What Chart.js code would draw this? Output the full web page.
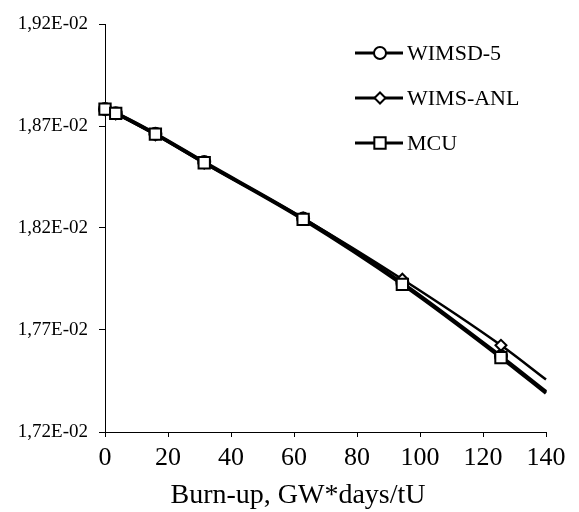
<!DOCTYPE html>
<html>
<head>
<meta charset="utf-8">
<script src="https://cdn.jsdelivr.net/npm/chart.js@4/dist/chart.umd.min.js"></script>
<style>
  html, body { margin: 0; padding: 0; background: #fff; }
  #wrap { width: 579px; height: 512px; }
</style>
</head>
<body>
<div id="wrap"><canvas id="myChart" width="579" height="512"></canvas></div>
<script>
// burn-up, GW*days/tU
let burnup = [0, 3.4, 16, 31.5, 62.9, 94.4, 125.7, 140];
// values in units of 1E-02
let wimsd5 = [1.8783, 1.8763, 1.8662, 1.8523, 1.8246, 1.7930, 1.7571, 1.7398];
let wimsAnl = [1.8781, 1.8760, 1.8657, 1.8518, 1.8248, 1.7949, 1.7625, 1.7457];
let mcu = [1.8783, 1.8762, 1.8660, 1.8520, 1.8242, 1.7924, 1.7565, 1.7390];
let seriesNames = ['WIMSD-5', 'WIMS-ANL', 'MCU'];
let xTitle = 'Burn-up, GW*days/tU';

const serif = "'Liberation Serif', 'Times New Roman', serif";

function toPoints(arr) {
  let pts = [];
  for (let i = 0; i < burnup.length; i++) {
    pts.push({ x: burnup[i], y: arr[i] / 100 });
  }
  return pts;
}

function radii(r) {
  // no marker on the last (edge) point
  return burnup.map((b, i) => (i === burnup.length - 1 ? 0 : r));
}

function formatSci(value) {
  let s = Number(value).toExponential(2); // 1.92e-2
  let parts = s.split('e');
  let exp = parseInt(parts[1], 10);
  let sign = exp < 0 ? '-' : '+';
  let e = String(Math.abs(exp)).padStart(2, '0');
  return parts[0].replace('.', ',') + 'E' + sign + e;
}

const legendAndTitle = {
  id: 'legendAndTitle',
  afterDraw(chart) {
    const ctx = chart.ctx;
    ctx.save();
    const rows = [53, 98, 143];
    chart.data.datasets.forEach((ds, i) => {
      const y = rows[i];
      ctx.strokeStyle = '#000';
      ctx.lineWidth = 3;
      ctx.beginPath();
      ctx.moveTo(355, y);
      ctx.lineTo(403, y);
      ctx.stroke();
      ctx.fillStyle = '#fff';
      ctx.strokeStyle = '#000';
      ctx.lineWidth = 2;
      Chart.helpers.drawPoint(ctx, {
        pointStyle: ds.pointStyle,
        radius: ds.legendRadius,
        borderWidth: 2,
        rotation: 0
      }, 380, y);
      ctx.fillStyle = '#000';
      ctx.font = '22px ' + serif;
      ctx.textAlign = 'left';
      ctx.textBaseline = 'middle';
      ctx.fillText(ds.label, 407, y + 1);
    });
    ctx.fillStyle = '#000';
    ctx.font = '28px ' + serif;
    ctx.textAlign = 'center';
    ctx.textBaseline = 'middle';
    ctx.fillText(xTitle, 298, 496);
    ctx.restore();
  }
};

const ctx = document.getElementById('myChart');
new Chart(ctx, {
  type: 'line',
  data: {
    datasets: [
      {
        label: seriesNames[2],
        data: toPoints(mcu),
        borderColor: '#000',
        borderWidth: 3.5,
        pointStyle: 'rect',
        pointRadius: radii(8),
        legendRadius: 8,
        pointBorderWidth: 2,
        pointBackgroundColor: '#fff',
        pointBorderColor: '#000',
        cubicInterpolationMode: 'monotone',
        clip: false,
        order: 0
      },
      {
        label: seriesNames[1],
        data: toPoints(wimsAnl),
        borderColor: '#000',
        borderWidth: 2.5,
        pointStyle: 'rectRot',
        pointRadius: radii(5.5),
        legendRadius: 5.5,
        pointBorderWidth: 2,
        pointBackgroundColor: '#fff',
        pointBorderColor: '#000',
        cubicInterpolationMode: 'monotone',
        clip: false,
        order: 1
      },
      {
        label: seriesNames[0],
        data: toPoints(wimsd5),
        borderColor: '#000',
        borderWidth: 3.5,
        pointStyle: 'circle',
        pointRadius: radii(6),
        legendRadius: 6,
        pointBorderWidth: 2,
        pointBackgroundColor: '#fff',
        pointBorderColor: '#000',
        cubicInterpolationMode: 'monotone',
        clip: false,
        order: 2
      }
    ].reverse()
  },
  options: {
    responsive: false,
    animation: false,
    layout: { padding: { top: 24, right: 33, left: 0, bottom: 0 } },
    plugins: {
      legend: { display: false },
      tooltip: { enabled: false }
    },
    scales: {
      x: {
        type: 'linear',
        min: 0,
        max: 140,
        afterFit(scale) { scale.height = 80; },
        border: { display: true, color: '#000', width: 1 },
        grid: { drawOnChartArea: false, color: '#000', tickLength: 5 },
        ticks: {
          stepSize: 20,
          color: '#000',
          padding: 6,
          maxRotation: 0,
          font: { family: serif, size: 26 }
        }
      },
      y: {
        min: 0.0172,
        max: 0.0192,
        afterFit(scale) { scale.width = 105; },
        border: { display: true, color: '#000', width: 1 },
        grid: { drawOnChartArea: false, color: '#000', tickLength: 6 },
        ticks: {
          stepSize: 0.0005,
          color: '#000',
          padding: 11,
          font: { family: serif, size: 19 },
          callback: (v) => formatSci(v)
        }
      }
    }
  },
  plugins: [legendAndTitle]
});
</script>
</body>
</html>
